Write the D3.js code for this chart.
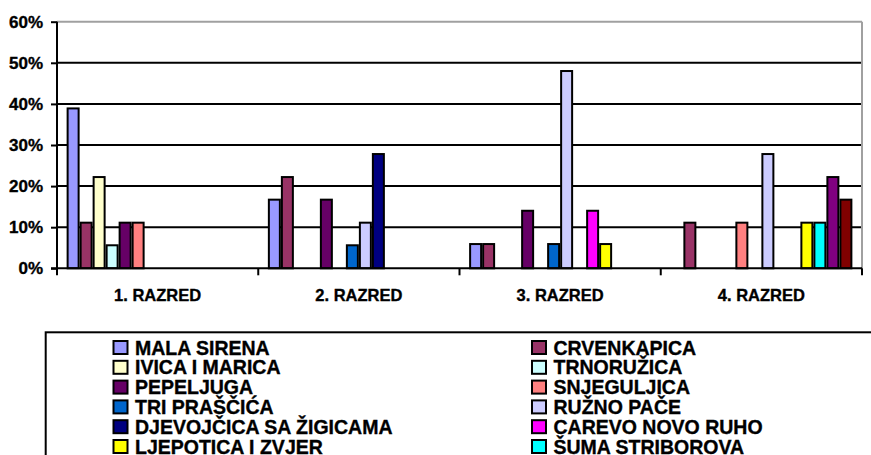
<!DOCTYPE html>
<html>
<head>
<meta charset="utf-8">
<script src="https://cdn.jsdelivr.net/npm/d3@7"></script>
<style>
    body { margin: 0; background: #fff; }
    svg { display: block; font-family: "Liberation Sans", Arial, sans-serif; font-weight: bold; }
    svg text { stroke: #000; stroke-width: 0.35px; }
</style>
</head>
<body>
<div id="chart"></div>
<script>
// categories (school grades)
let grades = ['1. RAZRED', '2. RAZRED', '3. RAZRED', '4. RAZRED']

// series names (favourite fairy tales), the last two are cut off in the legend
let tales = ['MALA SIRENA', 'CRVENKAPICA', 'IVICA I MARICA', 'TRNORUŽICA', 'PEPELJUGA', 'SNJEGULJICA',
    'TRI PRAŠČIĆA', 'RUŽNO PAČE', 'DJEVOJČICA SA ŽIGICAMA', 'CAREVO NOVO RUHO', 'LJEPOTICA I ZVJER',
    'ŠUMA STRIBOROVA', 'OSTALO 1', 'OSTALO 2']

// percentages per tale, one value per grade (null = no bar)
let percents = [
    [38.9, 16.7, 5.9, null],
    [11.1, 22.2, 5.9, 11.1],
    [22.2, null, null, null],
    [5.6, null, null, null],
    [11.1, 16.7, 14.0, null],
    [11.1, null, null, 11.1],
    [null, 5.6, 5.9, null],
    [null, 11.1, 48.0, 27.8],
    [null, 27.8, null, null],
    [null, null, 14.0, null],
    [null, null, 5.9, 11.1],
    [null, null, null, 11.1],
    [null, null, null, 22.2],
    [null, null, null, 16.7]
]

// y axis ticks
let yTicks = [0, 10, 20, 30, 40, 50, 60]

// colours for the tales
let taleColors = ['#9999FF', '#993366', '#FFFFCC', '#CCFFFF', '#660066', '#FF8080', '#0066CC',
    '#CCCCFF', '#000080', '#FF00FF', '#FFFF00', '#00FFFF', '#800080', '#800000']

// dimensions of the plot area
let width = 871, height = 455
let plot = {left: 57, right: 862, top: 21.7, bottom: 268.3}

let svg = d3.select("#chart")
    .append("svg")
    .attr("width", width)
    .attr("height", height)

// scales
let x = d3.scaleBand()
    .domain(grades)
    .range([plot.left, plot.right])
    .padding(0)

let xInner = d3.scaleBand()
    .domain(d3.range(tales.length))
    .range([0, x.bandwidth()])
    .paddingInner(0)
    .paddingOuter(0.74)

let y = d3.scaleLinear()
    .domain([0, 60])
    .range([plot.bottom, plot.top])

// horizontal grid lines (top one is the grey plot border)
svg.append("g")
    .selectAll("line")
    .data(yTicks.filter(d => d > 0))
    .enter()
    .append("line")
    .attr("x1", plot.left)
    .attr("x2", plot.right)
    .attr("y1", d => y(d))
    .attr("y2", d => y(d))
    .attr("stroke", d => d === 60 ? "#a0a0a0" : "#000")
    .attr("stroke-width", 2)

// right border of the plot area
svg.append("line")
    .attr("x1", plot.right)
    .attr("x2", plot.right)
    .attr("y1", plot.top)
    .attr("y2", plot.bottom)
    .attr("stroke", "#a0a0a0")
    .attr("stroke-width", 2)

// bars
let barData = []
percents.forEach(function(row, i) {
    row.forEach(function(v, j) {
        if (v !== null) barData.push({tale: i, grade: grades[j], value: v})
    })
})

svg.append("g")
    .selectAll("rect")
    .data(barData)
    .enter()
    .append("rect")
    .attr("x", d => x(d.grade) + xInner(d.tale) + 1)
    .attr("y", d => y(d.value))
    .attr("width", xInner.bandwidth() - 2)
    .attr("height", d => y(0) - y(d.value))
    .attr("fill", d => taleColors[d.tale])
    .attr("stroke", "#000")
    .attr("stroke-width", 2)

// y axis
let yAxis = svg.append("g")
    .attr("transform", "translate(" + plot.left + ",0)")
    .call(d3.axisLeft(y)
        .tickValues(yTicks)
        .tickSize(6)
        .tickPadding(8)
        .tickFormat(d => d + "%"))
yAxis.select(".domain").attr("stroke", "#000").attr("stroke-width", 2)
    .attr("d", "M0," + plot.top + "V" + plot.bottom)
yAxis.selectAll(".tick line").attr("stroke", "#000").attr("stroke-width", 2)
yAxis.selectAll("text")
    .attr("fill", "#000")
    .style("font-size", "17px")
    .style("font-weight", "bold")
    .style("font-family", "'Liberation Sans', Arial, sans-serif")

// x axis
let xAxis = svg.append("g")
    .attr("transform", "translate(0," + plot.bottom + ")")
xAxis.append("line")
    .attr("x1", plot.left - 6)
    .attr("x2", plot.right)
    .attr("stroke", "#000")
    .attr("stroke-width", 2)
xAxis.selectAll(".xtick")
    .data(grades.map(g => x(g)).concat([plot.right]))
    .enter()
    .append("line")
    .attr("x1", d => d)
    .attr("x2", d => d)
    .attr("y1", 0)
    .attr("y2", 7)
    .attr("stroke", "#000")
    .attr("stroke-width", 2)
xAxis.selectAll(".xlabel")
    .data(grades)
    .enter()
    .append("text")
    .attr("x", d => x(d) + x.bandwidth() / 2)
    .attr("y", 33)
    .style("text-anchor", "middle")
    .style("font-size", "16.5px")
    .text(d => d)

// legend box (runs past the edge of the picture)
svg.append("rect")
    .attr("x", 45.7)
    .attr("y", 332.3)
    .attr("width", 900)
    .attr("height", 200)
    .attr("fill", "#fff")
    .attr("stroke", "#000")
    .attr("stroke-width", 2)

// legend entries, two columns
let legend = svg.append("g")
    .selectAll("g")
    .data(tales)
    .enter()
    .append("g")
    .attr("transform", (d, i) => "translate(" + (i % 2 === 0 ? 113.5 : 532) + "," + (347.5 + Math.floor(i / 2) * 19.8) + ")")

legend.append("rect")
    .attr("x", 0)
    .attr("y", -6.5)
    .attr("width", 14)
    .attr("height", 13)
    .attr("fill", (d, i) => taleColors[i])
    .attr("stroke", "#000")
    .attr("stroke-width", 2)

legend.append("text")
    .attr("x", 21.5)
    .attr("y", 7)
    .style("font-size", "19.5px")
    .text(d => d)
</script>
</body>
</html>
